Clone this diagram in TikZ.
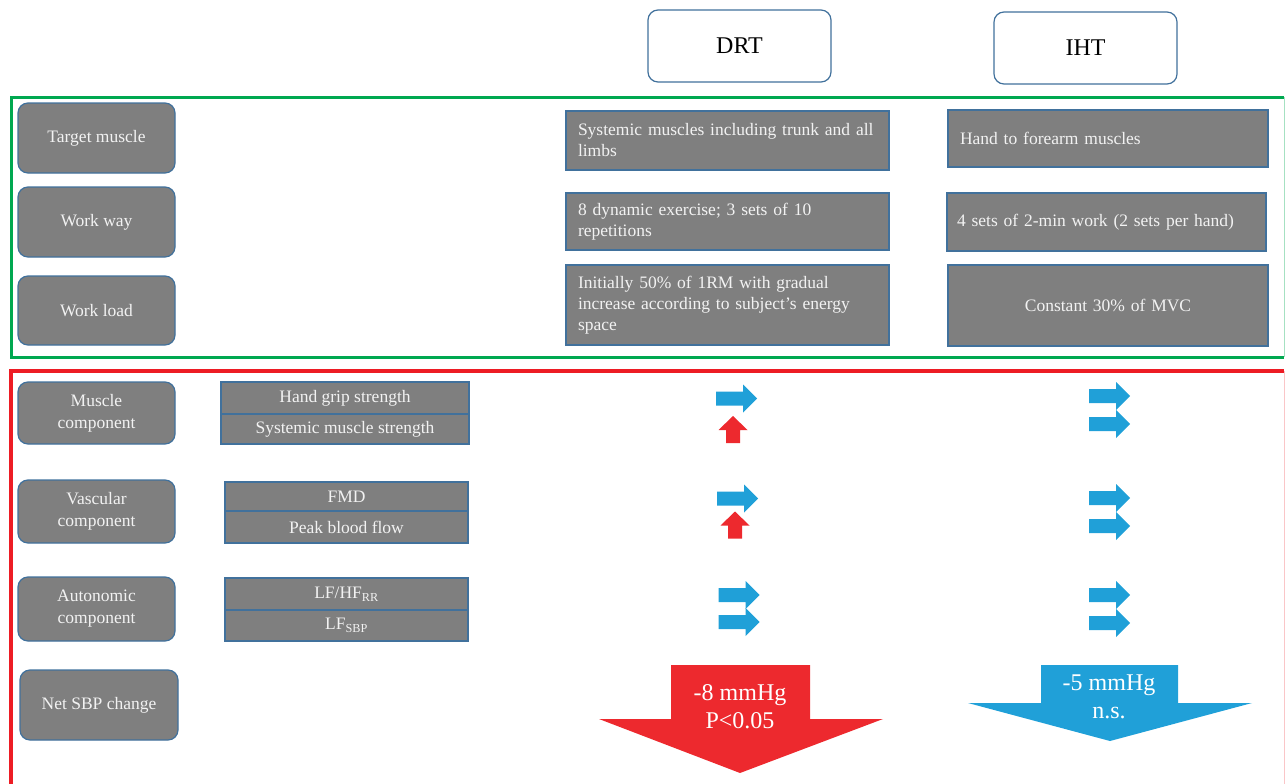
\documentclass[tikz,border=0pt]{standalone}
\usepackage{fontspec}
\setmainfont{Liberation Serif}

\definecolor{boxgray}{RGB}{127,127,127}
\definecolor{edgeblue}{RGB}{65,113,156}
\definecolor{framegreen}{RGB}{0,168,80}
\definecolor{framered}{RGB}{237,28,36}
\definecolor{arrblue}{RGB}{32,160,216}
\definecolor{arrred}{RGB}{237,41,46}
\definecolor{boxtext}{RGB}{242,242,242}

\tikzset{
  rowlabel/.style={draw=edgeblue, line width=1.2pt, fill=boxgray, rounded corners=10pt,
    text=boxtext, font=\fontsize{17.5}{22}\selectfont, align=center,
    minimum width=157pt, inner sep=0pt},
  group/.style={draw=edgeblue, line width=1.2pt, fill=white, rounded corners=10pt,
    minimum width=183pt, minimum height=72pt, font=\fontsize{24}{28}\selectfont},
  cell/.style={draw=edgeblue, line width=1.2pt, fill=boxgray, text=boxtext,
    font=\fontsize{17.5}{21}\selectfont, inner xsep=12pt, inner ysep=0pt},
  measure/.style={draw=edgeblue, line width=1.2pt, fill=boxgray, text=boxtext,
    font=\fontsize{17.5}{21}\selectfont, inner sep=0pt, minimum width=246pt},
  rarr/.pic={\fill[arrblue] (-20.5,-7) -- (6.5,-7) -- (6.5,-14) -- (20.5,0)
    -- (6.5,14) -- (6.5,7) -- (-20.5,7) -- cycle;},
  uarr/.pic={\fill[arrred] (0,-13.5) -- (14.5,0.5) -- (7,0.5) -- (7,13.5)
    -- (-7,13.5) -- (-7,0.5) -- (-14.5,0.5) -- cycle;},
  bigtext/.style={text=white, font=\fontsize{24}{28}\selectfont, align=center}
}

\begin{document}
\begin{tikzpicture}[x=1pt,y=-1pt]
  \useasboundingbox (0,0) rectangle (1285,784);

  % frames
  \draw[framegreen, line width=3pt] (1284,357) -- (11,357) -- (11,97) -- (1284,97);
  \draw[framegreen!35, line width=0.8pt] (1284,97) -- (1284,357);
  \draw[framered, line width=3.5pt] (11,790) -- (11,371) -- (1284,371);
  \draw[framered!25, line width=0.8pt] (1284,371) -- (1284,790);

  % headers
  \node[group] (drt) at (739.5,46) {DRT};
  \node[group] (iht) at (1085.5,48) {IHT};

  % training
  \node[rowlabel, minimum height=70pt] (tgt) at (96.5,138) {Target muscle};
  \node[rowlabel, minimum height=70pt] (way) at (96.5,222) {Work way};
  \node[rowlabel, minimum height=69pt] (load) at (96.5,310.5) {Work load};

  \node[cell, text width=299pt, minimum height=59pt, align=left] (drtTgt) at (727.5,140.5)
    {Systemic muscles including trunk and all\\limbs};
  \node[cell, text width=299pt, minimum height=57pt, align=left] (drtWay) at (727.5,221.5)
    {8 dynamic exercise; 3 sets of 10\\repetitions};
  \node[cell, text width=299pt, minimum height=80pt, align=left] (drtLoad) at (727.5,305)
    {Initially 50\% of 1RM with gradual\\increase according to subject’s energy\\space};

  \node[cell, text width=296pt, minimum height=57pt, align=left] (ihtTgt) at (1108,138.5)
    {Hand to forearm muscles};
  \node[cell, text width=299pt, minimum height=58pt, align=left, inner xsep=10pt] (ihtWay) at (1106.5,222)
    {4 sets of 2-min work (2 sets per hand)};
  \node[cell, text width=296pt, minimum height=81pt, align=center] (ihtLoad) at (1108,305.5)
    {Constant 30\% of MVC};

  % effects
  \node[rowlabel, minimum height=62pt] (mus) at (96.5,413) {Muscle\\component};
  \node[rowlabel, minimum height=63pt] (vas) at (96.5,511.5) {Vascular\\component};
  \node[rowlabel, minimum height=64pt] (aut) at (96.5,609) {Autonomic\\component};
  \node[rowlabel, minimum height=70pt, minimum width=158pt] (net) at (99,705) {Net SBP change};

  \node[measure, minimum width=248pt, minimum height=32pt] (grip) at (345,398) {Hand grip strength};
  \node[measure, minimum width=248pt, minimum height=30pt] (sysm) at (345,429) {Systemic muscle strength};
  \node[measure, minimum width=243pt, minimum height=29pt] (fmd) at (346.5,496.5) {FMD};
  \node[measure, minimum width=243pt, minimum height=32pt] (pbf) at (346.5,527) {Peak blood flow};
  \node[measure, minimum width=243pt, minimum height=32pt] (lfhf) at (346.5,594) {LF/HF\textsubscript{RR}};
  \node[measure, minimum width=243pt, minimum height=31pt] (lfsbp) at (346.5,625.5) {LF\textsubscript{SBP}};

  \pic at (736.5,398.5) {rarr};
  \pic at (733,429.5) {uarr};
  \pic at (737.5,498.5) {rarr};
  \pic at (735,525) {uarr};
  \foreach \yy in {595,622} \pic at (739,\yy) {rarr};
  \foreach \yy in {396,424,498,526,595,623} \pic at (1109.5,\yy) {rarr};

  % net change
  \fill[arrred] (671,665) -- (810,665) -- (810,719) -- (883,719) -- (740,773)
    -- (599,719) -- (671,719) -- cycle;
  \node[bigtext] (drtNet) at (740,707) {-8 mmHg\\P<0.05};
  \fill[arrblue] (1041,665) -- (1178,665) -- (1178,703) -- (1252,703) -- (1110,741)
    -- (968,703) -- (1041,703) -- cycle;
  \node[bigtext] (ihtNet) at (1109,697) {-5 mmHg\\n.s.};
\end{tikzpicture}
\end{document}
